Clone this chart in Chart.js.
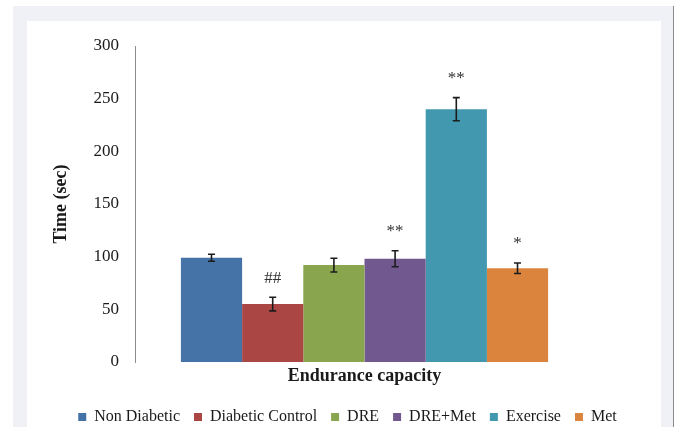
<!DOCTYPE html>
<html>
<head>
<meta charset="utf-8">
<script src="https://cdn.jsdelivr.net/npm/chart.js@4/dist/chart.umd.min.js"></script>
<style>
  html, body { margin: 0; padding: 0; background: #ffffff; overflow: hidden; }
  #frame { position: absolute; left: 13px; top: 6px; width: 660px; height: 421px;
           background: #f0f1f6; border-right: 1px solid #8a8a8a; }
  #panel { position: absolute; left: 14px; top: 15px; width: 634px; height: 406px; background: #ffffff; }
  #wrap { position: absolute; left: 0; top: 0; width: 680px; height: 427px; }
</style>
</head>
<body>
<div id="frame"><div id="panel"></div></div>
<div id="wrap"><canvas id="chart" width="680" height="427"></canvas></div>
<script>
// Endurance test: mean time to exhaustion per group, with SEM and significance marks
const category = ['Endurance capacity'];
const groups = ['Non Diabetic', 'Diabetic Control', 'DRE', 'DRE+Met', 'Exercise', 'Met'];
const meanTime = [99, 55, 92, 98, 240, 89];
const semTime = [3.3, 6.5, 6.5, 7.6, 11, 5];
const marks = ['', '##', '', '**', '**', '*'];
const yTicks = [0, 50, 100, 150, 200, 250, 300];
const colors = ['#4572A7', '#AA4643', '#89A54E', '#71588F', '#4198AF', '#DB843D'];

const serif = '"Liberation Serif", "Times New Roman", serif';

const errorBars = {
  id: 'errorBars',
  afterDatasetsDraw(chart) {
    const { ctx, scales: { y } } = chart;
    ctx.save();
    chart.data.datasets.forEach((ds, i) => {
      const bar = chart.getDatasetMeta(i).data[0];
      const x = bar.x;
      const top = y.getPixelForValue(meanTime[i] + semTime[i]);
      const bot = y.getPixelForValue(meanTime[i] - semTime[i]);
      ctx.strokeStyle = '#1c1c1c';
      ctx.lineWidth = 1.6;
      ctx.beginPath();
      ctx.moveTo(x, top); ctx.lineTo(x, bot);
      ctx.moveTo(x - 3.5, top); ctx.lineTo(x + 3.5, top);
      ctx.moveTo(x - 3.5, bot); ctx.lineTo(x + 3.5, bot);
      ctx.stroke();
      if (marks[i]) {
        ctx.fillStyle = '#333333';
        ctx.font = '17px ' + serif;
        ctx.textAlign = 'center';
        ctx.textBaseline = 'middle';
        ctx.fillText(marks[i], x, top - 19);
      }
    });
    ctx.restore();
  }
};

new Chart(document.getElementById('chart'), {
  type: 'bar',
  data: {
    labels: category,
    datasets: groups.map((g, i) => ({
      label: g,
      data: [meanTime[i]],
      backgroundColor: colors[i],
      borderWidth: 0,
      categoryPercentage: 0.8,
      barPercentage: 1.0
    }))
  },
  options: {
    responsive: false,
    animation: false,
    layout: { padding: { left: 15, right: 0, top: 46, bottom: -8 } },
    plugins: {
      tooltip: { enabled: false },
      legend: {
        position: 'bottom',
        labels: {
          boxWidth: 8, boxHeight: 8, padding: 14,
          color: '#1a1a1a',
          font: { family: serif, size: 16 }
        }
      }
    },
    scales: {
      x: {
        grid: { display: false, drawTicks: false },
        border: { display: false },
        ticks: { color: '#1a1a1a', padding: 4, font: { family: serif, size: 18, weight: 'bold' } },
        afterFit(s) { s.height = 33; }
      },
      y: {
        min: 0, max: 300,
        afterBuildTicks(s) { s.ticks = yTicks.map(v => ({ value: v })); },
        grid: { display: false, drawTicks: false },
        border: { display: true, color: '#8c8c8c', width: 1 },
        ticks: { color: '#1a1a1a', padding: 16, font: { family: serif, size: 17 } },
        title: {
          display: true, text: 'Time (sec)', color: '#1a1a1a',
          padding: { top: 36, bottom: 0 },
          font: { family: serif, size: 18, weight: 'bold' }
        },
        afterFit(s) { s.width = 120; }
      },
      yRight: {
        position: 'right',
        grid: { display: false, drawTicks: false },
        border: { display: false },
        ticks: { display: false },
        afterFit(s) { s.width = 86; }
      }
    }
  },
  plugins: [errorBars]
});
</script>
</body>
</html>
